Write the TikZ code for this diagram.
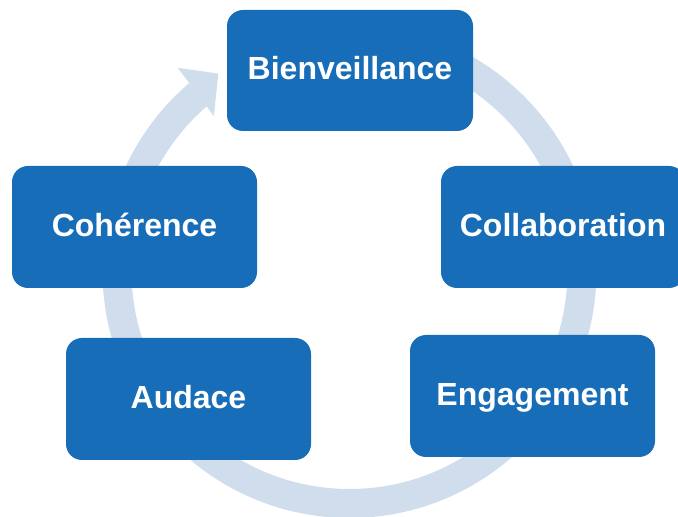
\documentclass[tikz,border=0pt]{standalone}
\usepackage{fontspec}
\setmainfont{Liberation Sans}
\definecolor{boxblue}{RGB}{23,109,183}
\definecolor{ringblue}{RGB}{207,221,237}
\begin{document}
\begin{tikzpicture}[x=1pt,y=1pt,
  valuebox/.style={fill=boxblue, rounded corners=16pt, inner sep=0pt,
    minimum width=245pt, minimum height=122pt, text=white,
    font=\fontsize{32}{38}\selectfont\bfseries, text height=23pt, text depth=4pt},
  ring/.style={draw=ringblue, line width=29pt},
  ringhead/.style={fill=ringblue}]
\useasboundingbox (0,0) rectangle (678,517);
\coordinate (C) at (349.5,246);
% circular arrow
\begin{scope}[shift={(C)}]
  \draw[ring] (90:232.5) arc[start angle=90, end angle=-229.5, radius=232.5];
  \fill[ringhead] (130.2:266) -- (123.6:237) -- (131.2:206) -- cycle;
\end{scope}
% boxes
\node[valuebox, minimum width=246pt, minimum height=121pt] (bien) at (350,446.5) {Bienveillance};
\node[valuebox, minimum width=244pt] (collab) at (563,290) {Collaboration};
\node[valuebox] (coher) at (134.5,290) {Cohérence};
\node[valuebox] (audace) at (188.5,118) {Audace};
\node[valuebox] (engag) at (532.5,121) {Engagement};
\end{tikzpicture}
\end{document}
